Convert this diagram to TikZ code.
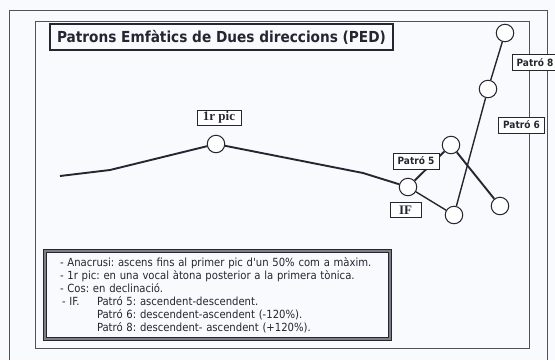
\documentclass[tikz,border=0pt]{standalone}
\usepackage{fontspec}
\newfontfamily\tahoma{DejaVu Sans Condensed}
\newfontfamily\timesb{Liberation Serif}
\definecolor{ink}{RGB}{38,38,50}
\definecolor{paper}{RGB}{248,250,253}
\frenchspacing

\begin{document}
\begin{tikzpicture}[x=1pt,y=-1pt]
        \tikzstyle{every node}=[inner sep=0pt, text=ink]
        \tikzstyle{tone}=[draw=ink, fill=white, circle, minimum size=17.5pt, line width=1pt]
        \tikzstyle{patro}=[draw=ink, fill=white, line width=0.8pt, minimum width=46pt, minimum height=16pt, font=\tahoma\bfseries\fontsize{10}{11}\selectfont]
        \tikzstyle{etiq}=[draw=ink, fill=white, line width=0.8pt, minimum height=15pt, font=\timesb\bfseries\fontsize{13}{14}\selectfont]
        \tikzstyle{contour}=[draw=ink, line width=1.9pt, line join=round]
        \fill[paper] (0,0) rectangle (555,360);
        \useasboundingbox (0,0) rectangle (555,360);
        % marcs
        \draw[ink!80, line width=0.8pt] (9,360) -- (9,10) -- (547,10) -- (547,360);
        \draw[ink!80, line width=0.9pt] (35,21) rectangle (529,348);
        \node[draw=ink, line width=2pt, minimum width=343pt, minimum height=26pt, font=\tahoma\bfseries\fontsize{15.2}{16}\selectfont] (title) at (221.5,37) {Patrons Emfàtics de Dues direccions (PED)};
        % punts
        \node[tone] (pic) at (216,144) {};
        \node[tone] (if) at (408,187) {};
        \node[tone] (p5a) at (451,145) {};
        \node[tone] (p5b) at (500,206) {};
        \node[tone] (low) at (454,215) {};
        \node[tone] (p8a) at (488,89) {};
        \node[tone] (p8b) at (505,33) {};
        \coordinate (c0) at (60,176);
        \coordinate (c1) at (110,170);
        \coordinate (c2) at (363,173);
        \draw[contour] (c0) -- (c1) -- (pic) -- (c2) -- (if);
        \draw[contour] (if) -- (p5a) -- (p5b);
        \draw[ink, line width=1.4pt] (if) -- (low) -- (p8a) -- (p8b);
        % etiquetes
        \node[etiq, minimum width=44pt] (picl) at (219,117.5) {1r pic};
        \node[etiq, minimum width=31pt] (ifl) at (405.5,210) {IF};
        \node[patro] (l5) at (416,161) {Patró 5};
        \node[patro] (l6) at (521.5,125) {Patró 6};
        \node[patro] (l8) at (535,62.5) {Patró 8};
        % llegenda
        \node[draw=ink, double=ink!60, double distance=1.4pt, line width=0.9pt, minimum width=345pt, minimum height=88pt, text width=315pt, align=left, font=\tahoma\fontsize{11.2}{13}\selectfont] (notes) at (217.5,295) {- Anacrusi: ascens fins al primer pic d'un 50\% com a màxim.\\
        - 1r pic: en una vocal àtona posterior a la primera tònica.\\
        - Cos: en declinació.\\
        \hspace*{2pt}\makebox[35pt][l]{- IF.}Patró 5: ascendent-descendent.\\
        \hspace*{37pt}Patró 6: descendent-ascendent (-120\%).\\
        \hspace*{37pt}Patró 8: descendent- ascendent (+120\%).};
    \end{tikzpicture}
\end{document}
